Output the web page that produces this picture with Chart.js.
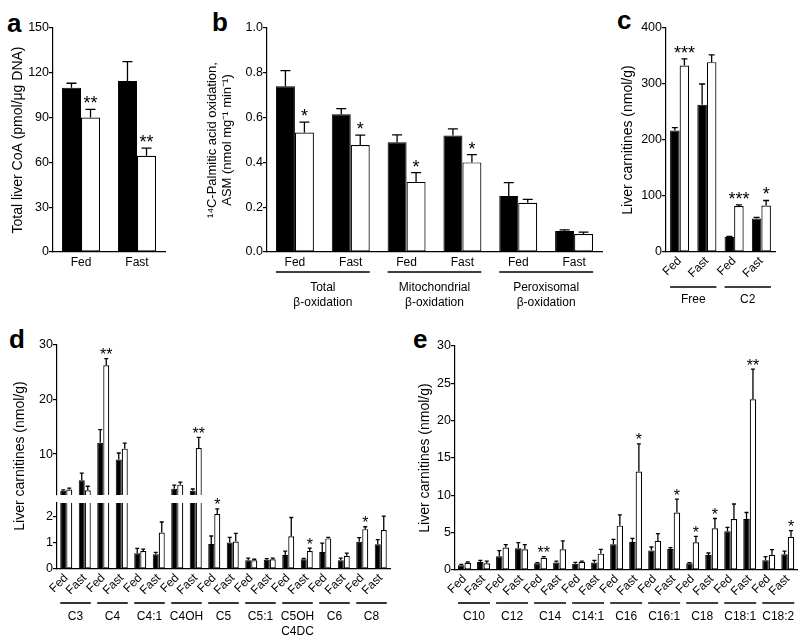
<!DOCTYPE html>
<html>
<head>
<meta charset="utf-8">
<script src="https://cdn.jsdelivr.net/npm/chart.js@4.4.1/dist/chart.umd.min.js"></script>
<style>
  body { margin: 0; background: #fff; width: 800px; height: 644px; position: relative; overflow: hidden;
         font-family: "Liberation Sans", Arial, sans-serif; }
  canvas { position: absolute; }
  .lt { position: absolute; font-weight: bold; font-size: 26px; line-height: 1; color: #000; }
</style>
</head>
<body>
<div class="lt" style="left:7px;top:10px">a</div>
<div class="lt" style="left:212px;top:9px">b</div>
<div class="lt" style="left:617px;top:7px">c</div>
<div class="lt" style="left:9px;top:326px">d</div>
<div class="lt" style="left:413px;top:326px">e</div>

<canvas id="ca" style="left:0;top:0" width="175" height="300"></canvas>
<canvas id="cb" style="left:180px;top:0" width="430" height="320"></canvas>
<canvas id="cc" style="left:610px;top:0" width="190" height="320"></canvas>
<canvas id="cdt" style="left:0;top:330px" width="400" height="240"></canvas>
<canvas id="cdb" style="left:0;top:490px" width="400" height="154"></canvas>
<canvas id="ce" style="left:405px;top:330px" width="395" height="314"></canvas>

<script>
// ---- panel a : total liver CoA
const aCats = ['Fed', 'Fast'];
const aBlack = [110, 114.5];
const aBlackErr = [3, 13];
const aWhite = [90, 64.5];
const aWhiteErr = [5.5, 5];
const aStars = ['**', '**'];
const aTicks = [0, 30, 60, 90, 120, 150];

// ---- panel b : palmitate oxidation
const bCats = ['Fed', 'Fast', 'Fed', 'Fast', 'Fed', 'Fast'];
const bGroups = [['Total', 'β-oxidation'], ['Mitochondrial', 'β-oxidation'], ['Peroxisomal', 'β-oxidation']];
const bBlack = [0.74, 0.615, 0.49, 0.52, 0.25, 0.094];
const bBlackErr = [0.07, 0.025, 0.033, 0.03, 0.06, 0.005];
const bWhite = [0.533, 0.478, 0.313, 0.40, 0.22, 0.08];
const bWhiteErr = [0.047, 0.044, 0.041, 0.035, 0.015, 0.009];
const bStars = ['*', '*', '*', '*', '', ''];
const bTicks = [0, 0.2, 0.4, 0.6, 0.8, 1.0];

// ---- panel c : free carnitine and C2
const cCats = ['Fed', 'Fast', 'Fed', 'Fast'];
const cGroups = ['Free', 'C2'];
const cBlack = [217, 263, 27, 60];
const cBlackErr = [5, 37, 1, 2];
const cWhite = [333, 339, 82, 83];
const cWhiteErr = [12, 13, 2, 9];
const cStars = ['***', '', '***', '*'];
const cTicks = [0, 100, 200, 300, 400];

// ---- panel d : short chain carnitines (broken axis)
const dCats = ['Fed', 'Fast', 'Fed', 'Fast', 'Fed', 'Fast', 'Fed', 'Fast', 'Fed', 'Fast',
               'Fed', 'Fast', 'Fed', 'Fast', 'Fed', 'Fast', 'Fed', 'Fast'];
const dGroups = ['C3', 'C4', 'C4:1', 'C4OH', 'C5', 'C5:1', ['C5OH', 'C4DC'], 'C6', 'C8'];
const dBlack = [3.3, 5.2, 12.1, 9.0, 0.6, 0.56, 3.65, 3.3, 0.95, 1.0, 0.33, 0.35, 0.53, 0.37, 0.64, 0.33, 1.03, 0.94];
const dBlackErr = [0.15, 1.3, 2.4, 1.2, 0.18, 0.07, 0.65, 0.3, 0.3, 0.2, 0.08, 0.04, 0.15, 0.03, 0.34, 0.08, 0.16, 0.17];
const dWhite = [3.5, 3.35, 26.3, 11.0, 0.68, 1.38, 4.4, 11.1, 2.08, 1.04, 0.33, 0.37, 1.24, 0.68, 1.16, 0.5, 1.51, 1.48];
const dWhiteErr = [0.26, 0.75, 1.2, 1.0, 0.07, 0.4, 0.46, 1.96, 0.2, 0.31, 0.04, 0.04, 0.71, 0.11, 0.04, 0.1, 0.09, 0.52];
const dStars = ['', '', '**', '', '', '', '', '**', '*', '', '', '', '', '*', '', '', '*', ''];
const dTopTicks = [10, 20, 30];
const dLowTicks = [0, 1, 2];

// ---- panel e : long chain carnitines
const eCats = ['Fed', 'Fast', 'Fed', 'Fast', 'Fed', 'Fast', 'Fed', 'Fast', 'Fed', 'Fast',
               'Fed', 'Fast', 'Fed', 'Fast', 'Fed', 'Fast', 'Fed', 'Fast'];
const eGroups = ['C10', 'C12', 'C14', 'C14:1', 'C16', 'C16:1', 'C18', 'C18:1', 'C18:2'];
const eBlack = [0.63, 1.07, 1.85, 2.9, 0.9, 1.0, 0.85, 1.0, 3.44, 3.75, 2.6, 2.8, 0.9, 2.0, 5.2, 6.83, 1.3, 2.1];
const eBlackErr = [0.13, 0.23, 0.75, 0.76, 0.1, 0.2, 0.18, 0.3, 0.66, 0.49, 0.48, 0.2, 0.1, 0.28, 0.5, 0.87, 0.49, 0.44];
const eWhite = [0.98, 0.9, 3.0, 2.77, 1.65, 2.77, 1.1, 2.19, 5.94, 13.2, 3.9, 7.7, 3.7, 5.58, 6.83, 22.86, 2.05, 4.46];
const eWhiteErr = [0.09, 0.3, 0.4, 0.63, 0.14, 1.13, 0.1, 0.58, 1.43, 3.7, 0.97, 1.8, 0.8, 1.32, 2.01, 4.04, 0.67, 0.81];
const eStars = ['', '', '', '', '**', '', '', '', '', '*', '', '*', '*', '*', '', '**', '', '*'];
const eTicks = [0, 5, 10, 15, 20, 25, 30];

const FONT = '"Liberation Sans", Arial, sans-serif';
Chart.defaults.font.family = FONT;
Chart.defaults.color = '#000';

// error bars, asterisks, group underlines
function extras(p) {
  return {
    id: 'extras',
    afterDatasetsDraw(chart) {
      const ctx = chart.ctx, ys = chart.scales.y;
      ctx.save();
      ctx.strokeStyle = '#000';
      ctx.fillStyle = '#000';
      ctx.lineWidth = 1.3;
      chart.data.datasets.forEach((ds, i) => {
        chart.getDatasetMeta(i).data.forEach((bar, j) => {
          const v = ds.data[j];
          if (v < ys.min || v > ys.max) return;
          const y0 = ys.getPixelForValue(v);
          const y1 = ys.getPixelForValue(v + ds.errors[j]);
          ctx.beginPath();
          ctx.moveTo(bar.x, y0);
          ctx.lineTo(bar.x, y1);
          ctx.moveTo(bar.x - p.cap / 2, y1);
          ctx.lineTo(bar.x + p.cap / 2, y1);
          ctx.stroke();
          const star = ds.stars && ds.stars[j];
          if (star) {
            ctx.font = p.starSize + 'px ' + FONT;
            ctx.textAlign = 'center';
            ctx.textBaseline = 'alphabetic';
            ctx.fillText(star, bar.x, y1 + p.starGap);
          }
        });
      });
      ctx.restore();
    },
    afterDraw(chart) {
      const ctx = chart.ctx, area = chart.chartArea;
      ctx.save();
      ctx.strokeStyle = '#000';
      ctx.fillStyle = '#000';
      if (p.groups) {
        const m0 = chart.getDatasetMeta(0).data, m1 = chart.getDatasetMeta(1).data;
        ctx.lineWidth = 1.6;
        ctx.font = '12px ' + FONT;
        ctx.textAlign = 'center';
        ctx.textBaseline = 'middle';
        p.groups.forEach((g, k) => {
          const first = m0[2 * k], last = m1[2 * k + 1];
          const x1 = first.x - first.width / 2, x2 = last.x + last.width / 2;
          ctx.beginPath();
          ctx.moveTo(x1, area.bottom + p.lineOff);
          ctx.lineTo(x2, area.bottom + p.lineOff);
          ctx.stroke();
          (Array.isArray(g) ? g : [g]).forEach((t, i) => {
            ctx.fillText(t, (x1 + x2) / 2, area.bottom + p.textOff + i * 15);
          });
        });
      }
      if (p.sideTitle) {
        ctx.translate(p.sideTitle.x, p.sideTitle.y);
        ctx.rotate(-Math.PI / 2);
        ctx.font = '14px ' + FONT;
        ctx.textAlign = 'center';
        ctx.textBaseline = 'middle';
        ctx.fillText(p.sideTitle.text, 0, 0);
      }
      ctx.restore();
    }
  };
}

function makePanel(p) {
  const datasets = [
    { data: p.black, errors: p.blackErr, backgroundColor: '#000', borderColor: '#000', borderWidth: 1,
      categoryPercentage: p.catPct, barPercentage: 1, clip: 0 },
    { data: p.white, errors: p.whiteErr, stars: p.stars, backgroundColor: '#fff', borderColor: '#000',
      borderWidth: 1.2, borderSkipped: false, categoryPercentage: p.catPct, barPercentage: 1, clip: 0 }
  ];
  return new Chart(document.getElementById(p.id), {
    type: 'bar',
    data: { labels: p.cats, datasets: datasets },
    options: {
      responsive: false,
      animation: false,
      layout: { padding: p.pad },
      plugins: { legend: { display: false }, tooltip: { enabled: false } },
      scales: {
        x: {
          display: p.showX !== false,
          grid: { display: false, drawTicks: false },
          border: { color: '#000', width: 1.2 },
          ticks: { font: { size: 12 }, color: '#000', autoSkip: false,
                   maxRotation: p.rot, minRotation: p.rot, padding: p.xPad },
          afterFit: s => { s.height = p.xH; }
        },
        y: {
          min: p.min, max: p.max,
          grid: { display: true, drawOnChartArea: false, drawTicks: true, tickLength: 4, color: '#000', lineWidth: 1.2 },
          border: { color: '#000', width: 1.2 },
          ticks: { font: { size: 12.5 }, color: '#000', padding: 0,
                   callback: v => p.fmt ? p.fmt(v) : String(v) },
          afterBuildTicks: s => { s.ticks = p.ticks.map(v => ({ value: v })); },
          afterFit: s => { s.width = p.yW; },
          title: p.title
            ? { display: true, text: p.title, color: '#000',
                font: { size: p.titleSize || 14, lineHeight: 1.15 }, padding: { top: p.titlePad, bottom: 0 } }
            : { display: false }
        }
      }
    },
    plugins: [extras(p)]
  });
}

makePanel({
  id: 'ca', cats: aCats, black: aBlack, blackErr: aBlackErr, white: aWhite, whiteErr: aWhiteErr, stars: aStars,
  ticks: aTicks, min: 0, max: 150, catPct: 0.68, rot: 0, xPad: 3,
  pad: { top: 28, right: 10, bottom: 0, left: 0 }, yW: 53, xH: 48,
  title: 'Total liver CoA (pmol/μg DNA)', titlePad: 10,
  cap: 10, starSize: 18, starGap: 0
});

makePanel({
  id: 'cb', cats: bCats, black: bBlack, blackErr: bBlackErr, white: bWhite, whiteErr: bWhiteErr, stars: bStars,
  ticks: bTicks, min: 0, max: 1, catPct: 0.68, rot: 0, xPad: 3, fmt: v => v.toFixed(1),
  pad: { top: 28, right: 8, bottom: 0, left: 0 }, yW: 87, xH: 68,
  title: ['¹⁴C-Palmitic acid oxidation,', 'ASM (nmol mg⁻¹ min⁻¹)'], titleSize: 13, titlePad: 24.5,
  cap: 10, starSize: 18, starGap: 0,
  groups: bGroups, lineOff: 20, textOff: 36
});

makePanel({
  id: 'cc', cats: cCats, black: cBlack, blackErr: cBlackErr, white: cWhite, whiteErr: cWhiteErr, stars: cStars,
  ticks: cTicks, min: 0, max: 400, catPct: 0.7, rot: 45, xPad: 2,
  pad: { top: 28, right: 25, bottom: 0, left: 0 }, yW: 56, xH: 68,
  title: 'Liver carnitines (nmol/g)', titlePad: 10,
  cap: 6, starSize: 18, starGap: 0,
  groups: cGroups, lineOff: 35, textOff: 48
});

// d: upper part of the broken axis
makePanel({
  id: 'cdt', cats: dCats, black: dBlack, blackErr: dBlackErr, white: dWhite, whiteErr: dWhiteErr, stars: dStars,
  ticks: dTopTicks, min: 2.5, max: 30, catPct: 0.65, rot: 45, xPad: 2, showX: false,
  pad: { top: 15, right: 10, bottom: 75, left: 0 }, yW: 57, xH: 0,
  cap: 4, starSize: 16, starGap: 1.5,
  sideTitle: { text: 'Liver carnitines (nmol/g)', x: 20, y: 126 }
});

// d: lower part of the broken axis
makePanel({
  id: 'cdb', cats: dCats, black: dBlack, blackErr: dBlackErr, white: dWhite, whiteErr: dWhiteErr, stars: dStars,
  ticks: dLowTicks, min: 0, max: 2.5, catPct: 0.65, rot: 45, xPad: 2,
  pad: { top: 13, right: 10, bottom: 0, left: 0 }, yW: 57, xH: 75,
  cap: 4, starSize: 16, starGap: 1.5,
  groups: dGroups, lineOff: 34, textOff: 48
});

makePanel({
  id: 'ce', cats: eCats, black: eBlack, blackErr: eBlackErr, white: eWhite, whiteErr: eWhiteErr, stars: eStars,
  ticks: eTicks, min: 0, max: 30, catPct: 0.68, rot: 45, xPad: 2,
  pad: { top: 16, right: 2, bottom: 0, left: 0 }, yW: 50, xH: 74,
  title: 'Liver carnitines (nmol/g)', titlePad: 12,
  cap: 4, starSize: 16, starGap: 1.5,
  groups: eGroups, lineOff: 33, textOff: 47
});
</script>
</body>
</html>
